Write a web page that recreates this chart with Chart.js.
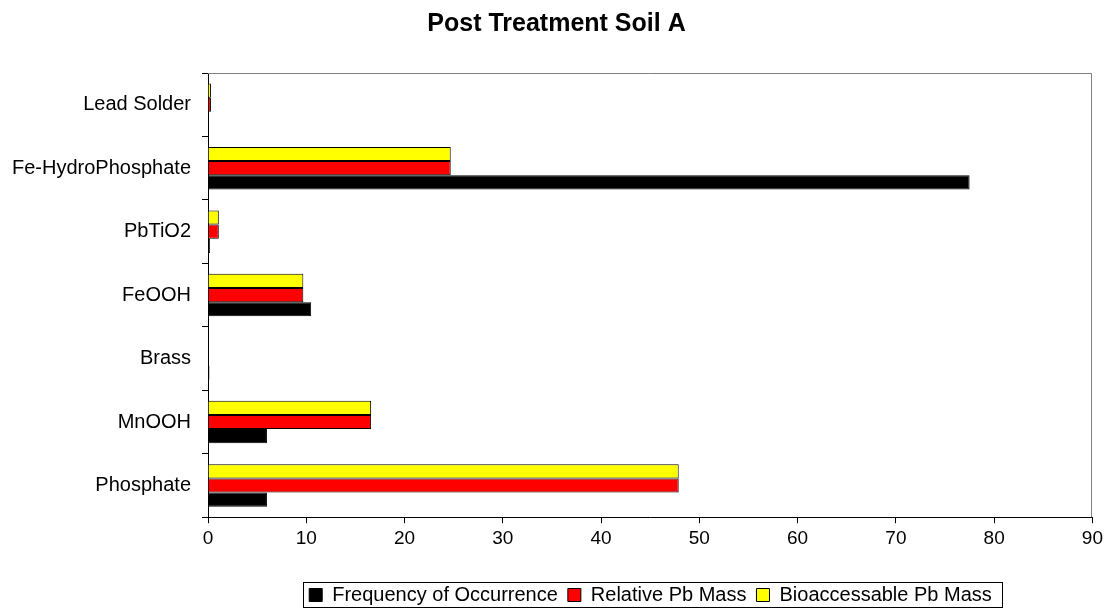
<!DOCTYPE html>
<html>
<head>
<meta charset="utf-8">
<script src="https://cdn.jsdelivr.net/npm/chart.js@4/dist/chart.umd.min.js"></script>
<style>
  html, body { margin: 0; padding: 0; background: #fff; overflow: hidden; }
  #wrap { width: 1107px; height: 609px; }
</style>
</head>
<body>
<div id="wrap"><canvas id="myChart" width="1107" height="609"></canvas></div>
<script>
// categories listed top to bottom (as drawn)
const categories = ['Lead Solder', 'Fe-HydroPhosphate', 'PbTiO2', 'FeOOH', 'Brass', 'MnOOH', 'Phosphate'];
const frequencyOfOccurrence = [0.1, 77.5, 0.2, 10.5, 0.15, 6.0, 6.0];
const relativePbMass = [0.3, 24.7, 1.1, 9.7, 0, 16.6, 47.9];
const bioaccessablePbMass = [0.3, 24.7, 1.1, 9.7, 0, 16.6, 47.9];
const xTicks = [0, 10, 20, 30, 40, 50, 60, 70, 80, 90];

const fontFamily = "'Liberation Sans', Arial, sans-serif";

// gray frame on top/right of the plot, legend centred under the plot, black box round the legend
const framePlugin = {
    id: 'framePlugin',
    afterUpdate: (chart) => {
        const title = chart.titleBlock;
        if (title) { title.left += 7; title.right += 7; }

        const legend = chart.legend;
        const area = chart.chartArea;
        if (!legend || !legend.legendHitBoxes.length) return;
        const boxes = legend.legendHitBoxes;
        const itemsLeft = boxes[0].left;
        const itemsRight = boxes[boxes.length - 1].left + boxes[boxes.length - 1].width;
        const dx = Math.round((area.left + area.right) / 2 - (itemsLeft + itemsRight) / 2);
        legend.left += dx;
        legend.right += dx;
        boxes.forEach(b => { b.left += dx; });
    },
    beforeDatasetsDraw: (chart) => {
        const { ctx, chartArea: a } = chart;
        ctx.save();
        ctx.strokeStyle = '#808080';
        ctx.lineWidth = 1;
        ctx.beginPath();
        ctx.moveTo(a.left, Math.round(a.top) + 0.5);
        ctx.lineTo(Math.round(a.right) - 0.5, Math.round(a.top) + 0.5);
        ctx.lineTo(Math.round(a.right) - 0.5, a.bottom);
        ctx.stroke();
        ctx.restore();
    },
    afterDraw: (chart) => {
        const boxes = chart.legend.legendHitBoxes;
        if (!boxes || !boxes.length) return;
        const last = boxes[boxes.length - 1];
        const left = boxes[0].left - 6;
        const right = last.left + last.width + 10;
        const top = boxes[0].top - 3;
        const bottom = boxes[0].top + boxes[0].height + 2;
        const ctx = chart.ctx;
        ctx.save();
        ctx.strokeStyle = '#000';
        ctx.lineWidth = 1;
        ctx.strokeRect(Math.round(left) + 0.5, Math.round(top) + 0.5, Math.round(right - left), Math.round(bottom - top));
        ctx.restore();
    }
};

new Chart(document.getElementById('myChart'), {
    type: 'bar',
    data: {
        labels: categories,
        datasets: [
            {
                label: 'Bioaccessable Pb Mass',
                data: bioaccessablePbMass,
                backgroundColor: '#FFFF00',
                borderColor: '#000',
                borderWidth: 1
            },
            {
                label: 'Relative Pb Mass',
                data: relativePbMass,
                backgroundColor: '#FF0000',
                borderColor: '#000',
                borderWidth: 1
            },
            {
                label: 'Frequency of Occurrence',
                data: frequencyOfOccurrence,
                backgroundColor: '#000000',
                borderColor: '#000',
                borderWidth: 1
            }
        ]
    },
    options: {
        indexAxis: 'y',
        responsive: false,
        animation: false,
        datasets: {
            bar: { categoryPercentage: 0.67, barPercentage: 1.0 }
        },
        layout: { padding: { left: 5, right: 13, top: 0, bottom: -6 } },
        plugins: {
            title: {
                display: true,
                text: 'Post Treatment Soil A',
                color: '#000',
                font: { family: fontFamily, size: 25, weight: 'bold' },
                padding: { top: 9, bottom: 34 }
            },
            legend: {
                position: 'bottom',
                reverse: true,
                labels: {
                    color: '#000',
                    font: { family: fontFamily, size: 20 },
                    boxWidth: 13,
                    boxHeight: 13,
                    padding: 10
                }
            },
            tooltip: { enabled: false }
        },
        scales: {
            x: {
                type: 'linear',
                min: 0,
                max: 90,
                afterBuildTicks: (scale) => {
                    scale.ticks = xTicks.map(v => ({ value: v }));
                },
                afterFit: (scale) => { scale.height += 21; },
                ticks: {
                    color: '#000',
                    font: { family: fontFamily, size: 19 },
                    padding: 4
                },
                grid: {
                    drawOnChartArea: false,
                    color: '#000',
                    tickLength: 6
                },
                border: { color: '#000', width: 1 }
            },
            y: {
                type: 'category',
                afterFit: (scale) => { scale.width = 203; },
                ticks: {
                    color: '#000',
                    font: { family: fontFamily, size: 20 },
                    padding: 11
                },
                grid: {
                    offset: true,
                    drawOnChartArea: false,
                    color: '#000',
                    tickLength: 6
                },
                border: { color: '#000', width: 1 }
            }
        }
    },
    plugins: [framePlugin]
});
</script>
</body>
</html>
